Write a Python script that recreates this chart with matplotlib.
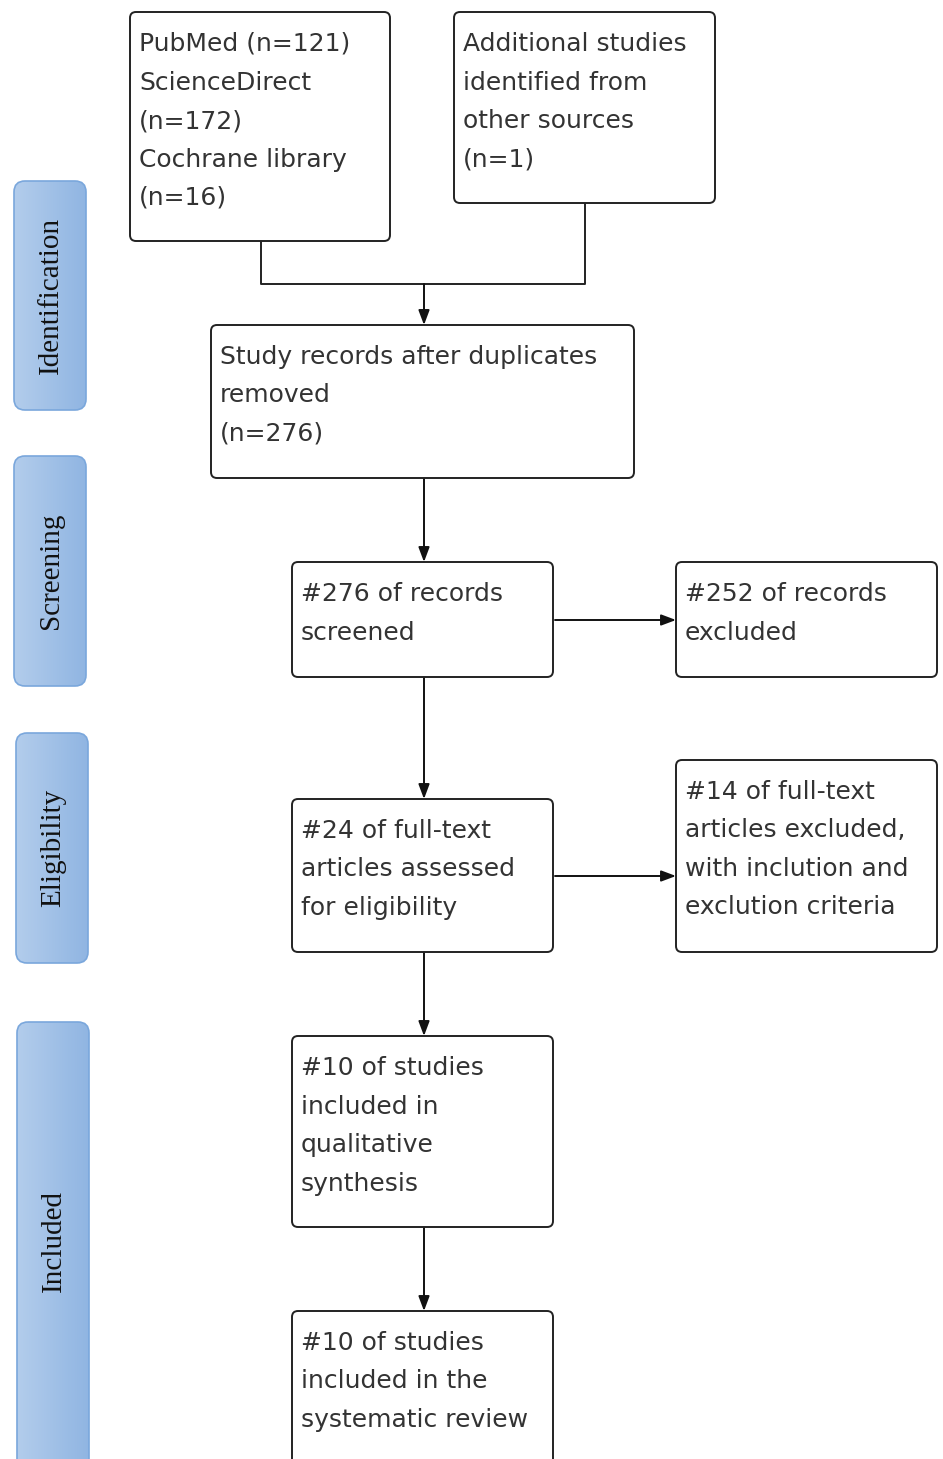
import numpy as np
import matplotlib
matplotlib.use('Agg')
from matplotlib import pyplot as plt
from matplotlib.patches import FancyBboxPatch, FancyArrowPatch

# stage labels on the left
stages = ['Identification', 'Screening', 'Eligibility', 'Included']

# box texts
txt_pubmed = ['PubMed (n=121)', 'ScienceDirect', '(n=172)', 'Cochrane library', '(n=16)']
txt_other = ['Additional studies', 'identified from', 'other sources', '(n=1)']
txt_dedup = ['Study records after duplicates', 'removed', '(n=276)']
txt_screened = ['#276 of records', 'screened']
txt_excl1 = ['#252 of records', 'excluded']
txt_fulltext = ['#24 of full-text', 'articles assessed', 'for eligibility']
txt_excl2 = ['#14 of full-text', 'articles excluded,', 'with inclution and', 'exclution criteria']
txt_qual = ['#10 of studies', 'included in', 'qualitative', 'synthesis']
txt_review = ['#10 of studies', 'included in the', 'systematic review']

W, H = 943, 1459
fig = plt.figure(figsize=(W/100, H/100), dpi=100)
ax = fig.add_axes([0, 0, 1, 1])
ax.set_xlim(0, W)
ax.set_ylim(H, 0)
ax.axis('off')

line_col = '#222222'
text_col = '#333333'
lw = 1.4
fs = 18
dy = 38.5


def box(x0, y0, x1, y1, lines):
    p = FancyBboxPatch((x0, y0), x1 - x0, y1 - y0, boxstyle='round,pad=0,rounding_size=6',
                       fc='white', ec=line_col, lw=lw, zorder=2)
    ax.add_patch(p)
    for i, s in enumerate(lines):
        ax.text(x0 + 9, y0 + 39 + i*dy, s, fontsize=fs, color=text_col,
                family='DejaVu Sans', va='baseline', ha='left', zorder=3)


def arrow(x0, y0, x1, y1):
    a = FancyArrowPatch((x0, y0), (x1, y1), arrowstyle='-|>,head_length=0.8,head_width=0.3',
                        mutation_scale=11, color='#111111', lw=lw, zorder=1,
                        shrinkA=0, shrinkB=0)
    ax.add_patch(a)


# stage boxes with blue gradient
stage_pos = [(14, 181, 86, 410), (14, 456, 86, 686), (16, 733, 88, 963), (17, 1022, 89, 1475)]
grad = np.linspace(0, 1, 256).reshape(1, -1)
cmap = matplotlib.colors.LinearSegmentedColormap.from_list('blu', ['#b3cdec', '#90b5e2'])
for name, (x0, y0, x1, y1) in zip(stages, stage_pos):
    p = FancyBboxPatch((x0, y0), x1 - x0, y1 - y0, boxstyle='round,pad=0,rounding_size=11',
                       fc='none', ec='#7aa7dc', lw=1.2, zorder=3)
    ax.add_patch(p)
    im = ax.imshow(grad, cmap=cmap, extent=(x0, x1, y1, y0), aspect='auto', zorder=2)
    im.set_clip_path(p)
    ax.text((x0 + x1)/2 + 1, (y0 + min(y1, H))/2, name, rotation=90, fontsize=21,
            family='Liberation Serif', color='#111111', ha='center', va='center', zorder=4)
ax.set_xlim(0, W)
ax.set_ylim(H, 0)

# flow boxes
box(130, 12, 390, 241, txt_pubmed)
box(454, 12, 715, 203, txt_other)
box(211, 325, 634, 478, txt_dedup)
box(292, 562, 553, 677, txt_screened)
box(676, 562, 937, 677, txt_excl1)
box(292, 799, 553, 952, txt_fulltext)
box(676, 760, 937, 952, txt_excl2)
box(292, 1036, 553, 1227, txt_qual)
box(292, 1311, 553, 1480, txt_review)

# connectors
ax.plot([261, 261, 585, 585], [241, 284, 284, 203], color=line_col, lw=lw, zorder=1)
arrow(424, 284, 424, 325)
arrow(424, 478, 424, 562)
arrow(424, 677, 424, 799)
arrow(555, 620, 676, 620)
arrow(555, 876, 676, 876)
arrow(424, 952, 424, 1036)
arrow(424, 1227, 424, 1311)

fig.savefig('out.png', dpi=100, facecolor='white')
